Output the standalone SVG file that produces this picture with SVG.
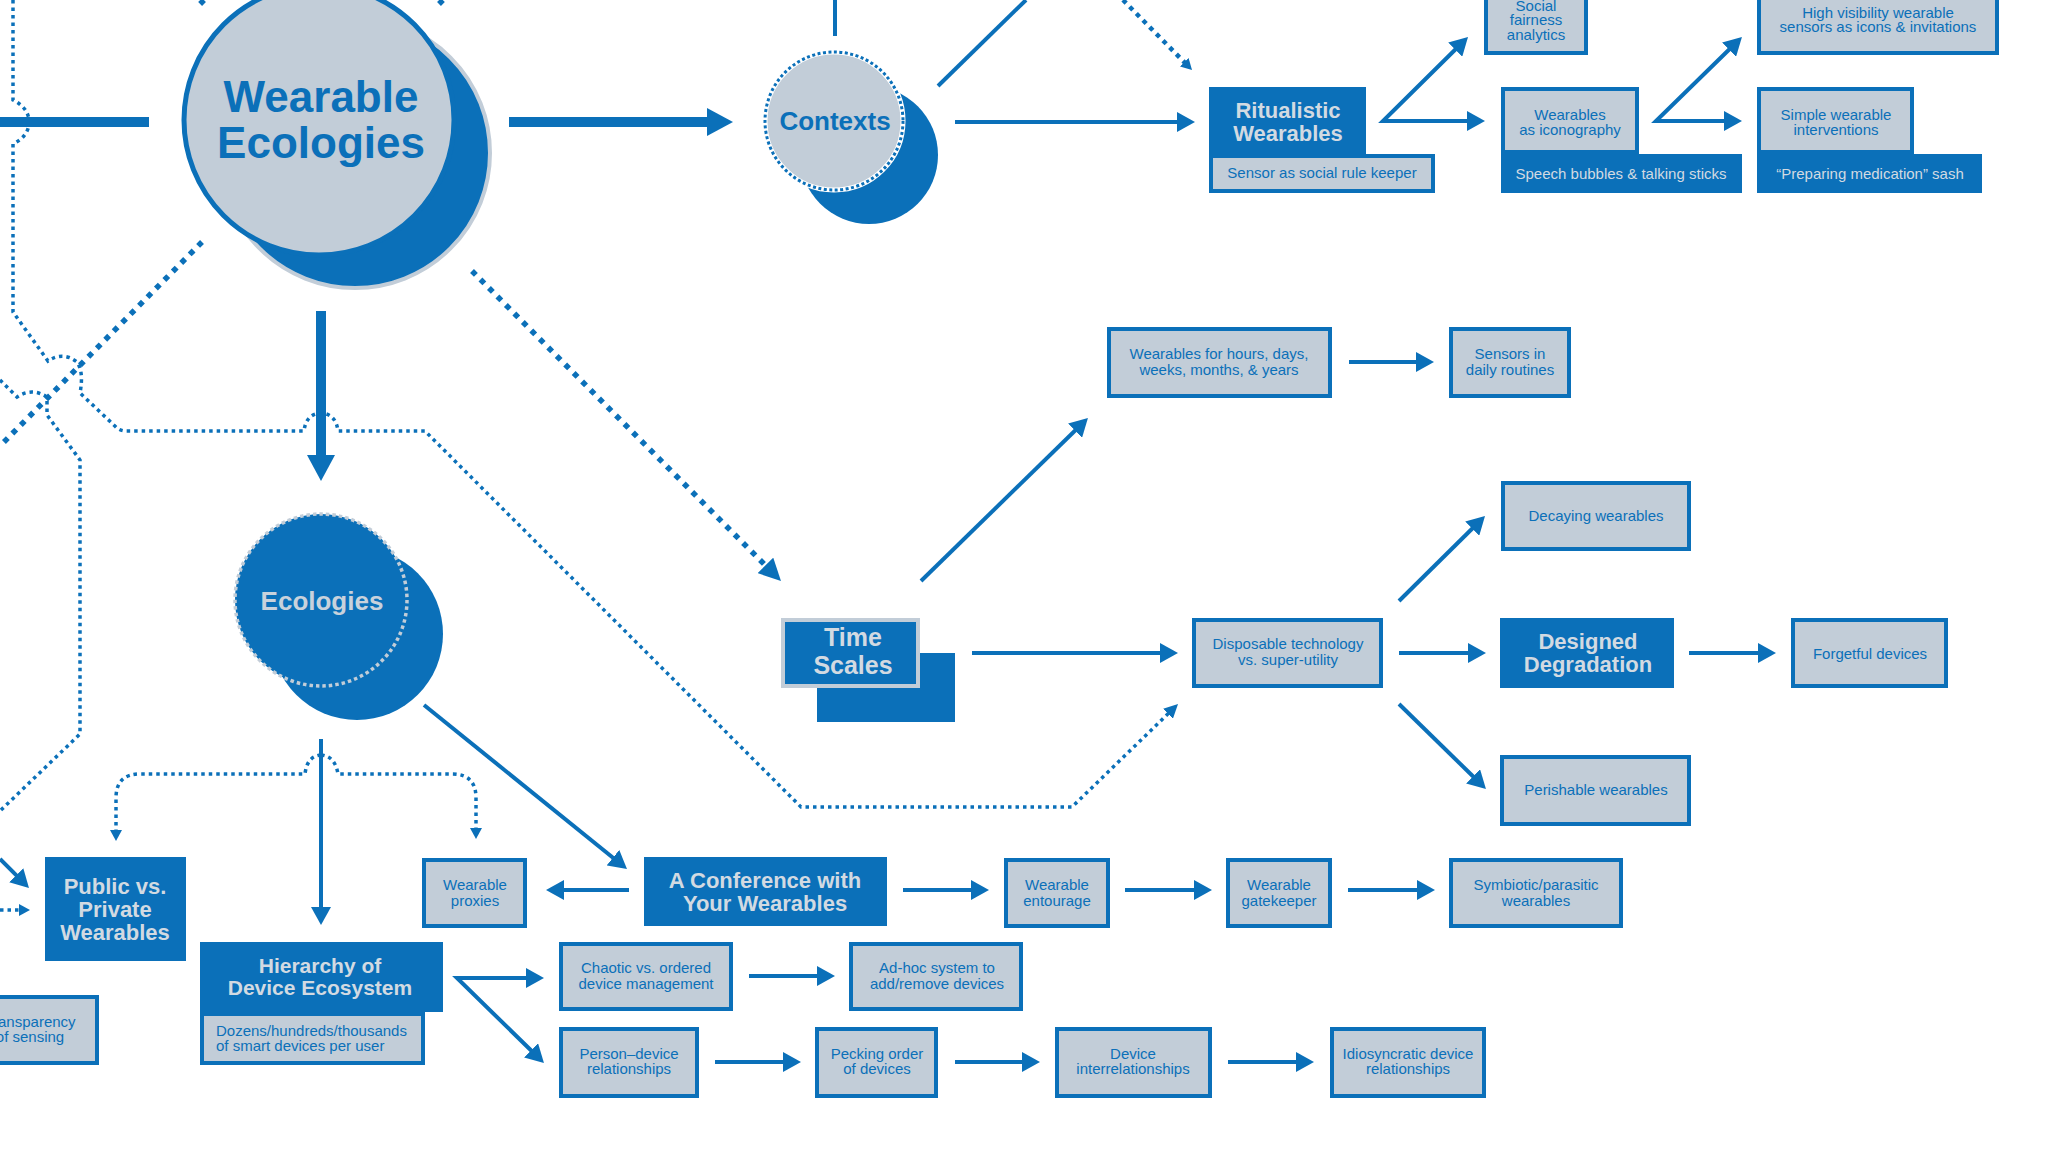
<svg xmlns="http://www.w3.org/2000/svg" width="2048" height="1152" viewBox="0 0 2048 1152">
<style>
text{font-family:"Liberation Sans",Arial,sans-serif;text-anchor:middle}
.t{font-size:15px;fill:#0b70b9}
.tw{font-size:15px;fill:#d2dae2}
.h{font-size:22px;font-weight:bold;fill:#d2dae2}
.lb{fill:#c2cdd8;stroke:#0b70b9;stroke-width:4}
.db{fill:#0b70b9}
.ln{fill:none;stroke:#0b70b9;stroke-width:4}
.lk{fill:none;stroke:#0b70b9;stroke-width:10}
.dt{fill:none;stroke:#0b70b9;stroke-width:3.5;stroke-dasharray:3.5 4}
.dk{fill:none;stroke:#0b70b9;stroke-width:5.5;stroke-dasharray:5.5 6.5}
</style>
<defs>
<marker id="a" markerUnits="userSpaceOnUse" markerWidth="18" markerHeight="20" refX="8" refY="10" orient="auto-start-reverse"><path d="M0,0 L18,10 L0,20 z" fill="#0b70b9"/></marker>
<marker id="k" markerUnits="userSpaceOnUse" markerWidth="26" markerHeight="28" refX="10" refY="14" orient="auto-start-reverse"><path d="M0,0 L26,14 L0,28 z" fill="#0b70b9"/></marker>
<marker id="d" markerUnits="userSpaceOnUse" markerWidth="14" markerHeight="14" refX="6" refY="7" orient="auto-start-reverse"><path d="M0,0 L14,7 L0,14 z" fill="#0b70b9"/></marker>
<marker id="s" markerUnits="userSpaceOnUse" markerWidth="11" markerHeight="12" refX="3" refY="6" orient="auto-start-reverse"><path d="M0,0 L11,6 L0,12 z" fill="#0b70b9"/></marker>
<marker id="t" markerUnits="userSpaceOnUse" markerWidth="22" markerHeight="22" refX="8" refY="11" orient="auto-start-reverse"><path d="M0,0 L22,11 L0,22 z" fill="#0b70b9"/></marker>
</defs>
<rect width="2048" height="1152" fill="#ffffff"/>

<g id="connectors">
<path class="dt" d="M13,0 V100 Q29,108 29,122 Q29,136 13,144 V312 L48,361 Q63,351 77,362 Q84,372 80,393 L117,428 Q121,431 126,431 H304 Q306,414 321,413 Q336,414 338,431 H425 L801,807 H1072 L1172.3,709.6" marker-end="url(#d)"/>
<path class="dt" d="M0,380 L17,397 Q32,387 47,397 V415 L80,460 V734 L0,811"/>
<path class="dt" d="M321,755 Q307,756 305,774 H140 Q116,774 116,798 V833" marker-end="url(#s)"/>
<path class="dt" d="M321,755 Q335,756 338,774 H452 Q476,774 476,798 V831" marker-end="url(#s)"/>
<path class="dt" d="M0,910 H22" marker-end="url(#s)"/>
<path class="dk" d="M202,242 L0,446"/>
<path class="dk" d="M204,4 L194,-6"/>
<path class="dk" d="M439,4 L449,-6"/>
<path class="dk" d="M472,271 L771.1,571.1" marker-end="url(#t)"/>
<path class="dk" style="stroke-width:4.5;stroke-dasharray:4.5 5" d="M1123,0 L1186.4,64.3" marker-end="url(#s)"/>
<path class="lk" d="M0,122 H149"/>
<path class="lk" d="M509,122 H717" marker-end="url(#k)"/>
<path class="lk" d="M321,311 V465" marker-end="url(#k)"/>
<path class="ln" d="M835,0 V36"/>
<path class="ln" d="M938,86 L1026,0"/>
<path class="ln" d="M955,122 H1185" marker-end="url(#a)"/>
<path class="ln" d="M1460.9,44 L1383,121 H1475" marker-start="url(#a)" marker-end="url(#a)"/>
<path class="ln" d="M1734.8,44 L1656,121 H1732" marker-start="url(#a)" marker-end="url(#a)"/>
<path class="ln" d="M1349,362 H1424" marker-end="url(#a)"/>
<path class="ln" d="M921,581 L1080.8,425" marker-end="url(#a)"/>
<path class="ln" d="M972,653 H1168" marker-end="url(#a)"/>
<path class="ln" d="M1399,601 L1477.9,523" marker-end="url(#a)"/>
<path class="ln" d="M1399,653 H1476" marker-end="url(#a)"/>
<path class="ln" d="M1399,704 L1478.8,782" marker-end="url(#a)"/>
<path class="ln" d="M1689,653 H1766" marker-end="url(#a)"/>
<path class="ln" d="M321,739 V915" marker-end="url(#a)"/>
<path class="ln" d="M424,705 L619.2,862.7" marker-end="url(#a)"/>
<path class="ln" d="M629,890 H556" marker-end="url(#a)"/>
<path class="ln" d="M903,890 H979" marker-end="url(#a)"/>
<path class="ln" d="M1125,890 H1202" marker-end="url(#a)"/>
<path class="ln" d="M1348,890 H1425" marker-end="url(#a)"/>
<path class="ln" d="M534,978 H457 L536.8,1056" marker-start="url(#a)" marker-end="url(#a)"/>
<path class="ln" d="M749,976 H825" marker-end="url(#a)"/>
<path class="ln" d="M715,1062 H791" marker-end="url(#a)"/>
<path class="ln" d="M955,1062 H1030" marker-end="url(#a)"/>
<path class="ln" d="M1228,1062 H1304" marker-end="url(#a)"/>
<path class="ln" d="M0,859 L21.9,880.9" marker-end="url(#a)"/>
</g>

<g id="wearable-ecologies">
<circle cx="355" cy="153" r="135" fill="#0b70b9" stroke="#c2cdd8" stroke-width="4"/>
<circle cx="319" cy="120" r="135" fill="#c2cdd8" stroke="#0b70b9" stroke-width="5"/>
<text x="321" y="112" style="font-size:44px;font-weight:bold;fill:#0b70b9">Wearable</text>
<text x="321" y="158" style="font-size:44px;font-weight:bold;fill:#0b70b9">Ecologies</text>
</g>

<g id="contexts">
<circle cx="869" cy="155" r="69" fill="#0b70b9"/>
<circle cx="834" cy="121" r="69" fill="#c2cdd8" stroke="#ffffff" stroke-width="5"/>
<circle cx="834" cy="121" r="69" fill="none" stroke="#0b70b9" stroke-width="3" stroke-dasharray="3 2.5"/>
<text x="835" y="130" style="font-size:26px;font-weight:bold;fill:#0b70b9">Contexts</text>
</g>

<g id="ecologies">
<circle cx="357" cy="634" r="86" fill="#0b70b9"/>
<circle cx="321" cy="600" r="86" fill="#0b70b9" stroke="#c2cdd8" stroke-width="3.5" stroke-dasharray="3.5 3"/>
<text x="322" y="610" style="font-size:26px;font-weight:bold;fill:#c8d2dc">Ecologies</text>
</g>

<g id="ritualistic-wearables">
<rect class="db" x="1209" y="87" width="157" height="67"/>
<rect class="lb" x="1211" y="156" width="222" height="35"/>
<text class="h" x="1288" y="118">Ritualistic</text>
<text class="h" x="1288" y="141">Wearables</text>
<text class="t" x="1322" y="178">Sensor as social rule keeper</text>
</g>

<g id="social-fairness">
<rect class="lb" x="1486" y="-2" width="100" height="55"/>
<text class="t" x="1536" y="11">Social</text>
<text class="t" x="1536" y="25">fairness</text>
<text class="t" x="1536" y="40">analytics</text>
</g>

<g id="wearables-iconography">
<rect class="db" x="1501" y="154" width="241" height="39"/>
<rect class="lb" x="1503" y="89" width="134" height="63"/>
<text class="t" x="1570" y="120">Wearables</text>
<text class="t" x="1570" y="135">as iconography</text>
<text class="tw" x="1621" y="179">Speech bubbles &amp; talking sticks</text>
</g>

<g id="high-visibility">
<rect class="lb" x="1759" y="-2" width="238" height="55"/>
<text class="t" x="1878" y="18">High visibility wearable</text>
<text class="t" x="1878" y="32">sensors as icons &amp; invitations</text>
</g>

<g id="simple-wearable">
<rect class="db" x="1757" y="154" width="225" height="39"/>
<rect class="lb" x="1759" y="89" width="153" height="63"/>
<text class="t" x="1836" y="120">Simple wearable</text>
<text class="t" x="1836" y="135">interventions</text>
<text class="tw" x="1870" y="179">“Preparing medication” sash</text>
</g>

<g id="wearables-hours">
<rect class="lb" x="1109" y="329" width="221" height="67"/>
<text class="t" x="1219" y="359">Wearables for hours, days,</text>
<text class="t" x="1219" y="375">weeks, months, &amp; years</text>
</g>

<g id="sensors-routines">
<rect class="lb" x="1451" y="329" width="118" height="67"/>
<text class="t" x="1510" y="359">Sensors in</text>
<text class="t" x="1510" y="375">daily routines</text>
</g>

<g id="decaying">
<rect class="lb" x="1503" y="483" width="186" height="66"/>
<text class="t" x="1596" y="521">Decaying wearables</text>
</g>

<g id="time-scales">
<rect class="db" x="817" y="653" width="138" height="69"/>
<rect class="db" x="783" y="620" width="135" height="66" stroke="#c2cdd8" stroke-width="4"/>
<text x="853" y="646" style="font-size:25px;font-weight:bold;fill:#d2dae2">Time</text>
<text x="853" y="674" style="font-size:25px;font-weight:bold;fill:#d2dae2">Scales</text>
</g>

<g id="disposable">
<rect class="lb" x="1194" y="620" width="187" height="66"/>
<text class="t" x="1288" y="649">Disposable technology</text>
<text class="t" x="1288" y="665">vs. super-utility</text>
</g>

<g id="designed-degradation">
<rect class="db" x="1500" y="618" width="174" height="70"/>
<text class="h" x="1588" y="649">Designed</text>
<text class="h" x="1588" y="672">Degradation</text>
</g>

<g id="forgetful">
<rect class="lb" x="1793" y="620" width="153" height="66"/>
<text class="t" x="1870" y="659">Forgetful devices</text>
</g>

<g id="perishable">
<rect class="lb" x="1502" y="757" width="187" height="67"/>
<text class="t" x="1596" y="795">Perishable wearables</text>
</g>

<g id="public-private">
<rect class="db" x="45" y="857" width="141" height="104"/>
<text class="h" x="115" y="894">Public vs.</text>
<text class="h" x="115" y="917">Private</text>
<text class="h" x="115" y="940">Wearables</text>
</g>

<g id="wearable-proxies">
<rect class="lb" x="424" y="860" width="101" height="66"/>
<text class="t" x="475" y="890">Wearable</text>
<text class="t" x="475" y="906">proxies</text>
</g>

<g id="conference">
<rect class="db" x="644" y="857" width="243" height="69"/>
<text class="h" x="765" y="888">A Conference with</text>
<text class="h" x="765" y="911">Your Wearables</text>
</g>

<g id="entourage">
<rect class="lb" x="1006" y="860" width="102" height="66"/>
<text class="t" x="1057" y="890">Wearable</text>
<text class="t" x="1057" y="906">entourage</text>
</g>

<g id="gatekeeper">
<rect class="lb" x="1228" y="860" width="102" height="66"/>
<text class="t" x="1279" y="890">Wearable</text>
<text class="t" x="1279" y="906">gatekeeper</text>
</g>

<g id="symbiotic">
<rect class="lb" x="1451" y="860" width="170" height="66"/>
<text class="t" x="1536" y="890">Symbiotic/parasitic</text>
<text class="t" x="1536" y="906">wearables</text>
</g>

<g id="hierarchy">
<rect class="db" x="200" y="942" width="243" height="70"/>
<rect class="lb" x="202" y="1014" width="221" height="49"/>
<text class="h" x="320" y="973" style="font-size:21px">Hierarchy of</text>
<text class="h" x="320" y="995" style="font-size:21px">Device Ecosystem</text>
<text class="t" x="216" y="1036" style="text-anchor:start">Dozens/hundreds/thousands</text>
<text class="t" x="216" y="1051" style="text-anchor:start">of smart devices per user</text>
</g>

<g id="chaotic">
<rect class="lb" x="561" y="944" width="170" height="65"/>
<text class="t" x="646" y="973">Chaotic vs. ordered</text>
<text class="t" x="646" y="989">device management</text>
</g>

<g id="adhoc">
<rect class="lb" x="851" y="944" width="170" height="65"/>
<text class="t" x="937" y="973">Ad-hoc system to</text>
<text class="t" x="937" y="989">add/remove devices</text>
</g>

<g id="transparency">
<rect class="lb" x="-2" y="997" width="99" height="66"/>
<text class="t" x="30" y="1027">Transparency</text>
<text class="t" x="30" y="1042">of sensing</text>
</g>

<g id="person-device">
<rect class="lb" x="561" y="1029" width="136" height="67"/>
<text class="t" x="629" y="1059">Person–device</text>
<text class="t" x="629" y="1074">relationships</text>
</g>

<g id="pecking">
<rect class="lb" x="817" y="1029" width="119" height="67"/>
<text class="t" x="877" y="1059">Pecking order</text>
<text class="t" x="877" y="1074">of devices</text>
</g>

<g id="device-interrelationships">
<rect class="lb" x="1057" y="1029" width="153" height="67"/>
<text class="t" x="1133" y="1059">Device</text>
<text class="t" x="1133" y="1074">interrelationships</text>
</g>

<g id="idiosyncratic">
<rect class="lb" x="1332" y="1029" width="152" height="67"/>
<text class="t" x="1408" y="1059">Idiosyncratic device</text>
<text class="t" x="1408" y="1074">relationships</text>
</g>
</svg>
